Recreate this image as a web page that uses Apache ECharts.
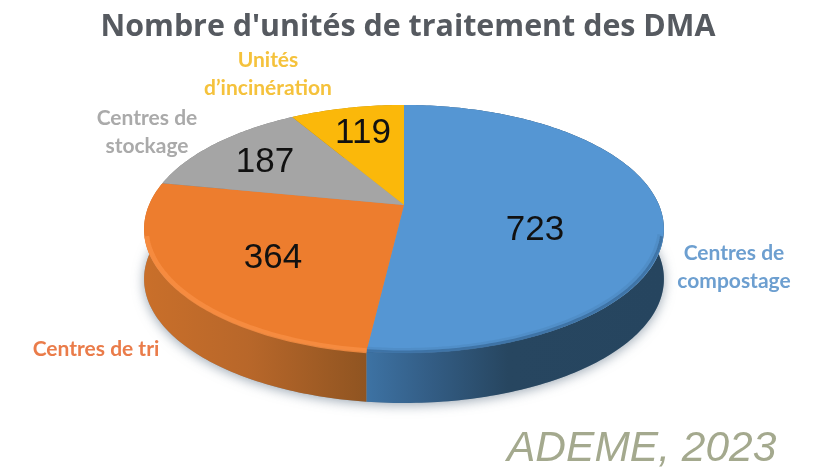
<!DOCTYPE html>
<html><head><meta charset="utf-8">
<style>html,body{margin:0;padding:0;background:#fff}#c{width:818px;height:468px;filter:blur(0.55px)}</style>
<script src="https://cdn.jsdelivr.net/npm/echarts@6/dist/echarts.min.js"></script>
</head><body><div id="c"></div>
<script>
const categories = ['Centres de\ncompostage', 'Centres de tri', 'Centres de\nstockage', 'Unités\nd’incinération'];
const values = [723, 364, 187, 119];
const titleText = "Nombre d'unités de traitement des DMA";
const creditText = 'ADEME, 2023';

const topColors = ['#5596d3', '#ed7d2e', '#a5a5a5', '#fbb80a'];
const nameColors = ['#6d9fd0', '#ea7c4a', '#aaaaaa', '#f5c23c'];
const namePos = [[734, 267], [96, 349], [147, 132], [268, 74]];
const valuePos = [[535, 230], [273, 258], [265, 162], [363, 133]];

const CX = 404, APEX = 205, BACK = 105, FRONT = 353, RX = 255, DEPTH = 50;
const C2 = (2 * APEX - FRONT - BACK) / (FRONT - BACK);
const A = FRONT * (1 + C2) - APEX;
function project(deg) {
  const t = deg * Math.PI / 180, x = Math.sin(t), y = -Math.cos(t), w = 1 + C2 * y;
  return [CX + RX * x / w, (A * y + APEX) / w];
}
const total = values.reduce((a, b) => a + b, 0);
const starts = [];
values.reduce((acc, v, i) => { starts[i] = acc; return acc + v; }, 0);
function arc(i) {
  const a0 = starts[i] / total * 360, a1 = (starts[i] + values[i]) / total * 360, pts = [];
  const n = Math.max(2, Math.ceil(a1 - a0));
  for (let k = 0; k <= n; k++) pts.push(project(a0 + (a1 - a0) * k / n));
  return pts;
}
function down(pts) { return pts.map(p => [p[0], p[1] + DEPTH]).reverse(); }
function inset(pts, f, dy) { return pts.map(p => [CX + (p[0] - CX) * f, p[1] + dy]); }
function grad(stops) {
  return { type: 'linear', global: true, x: 144, y: 0, x2: 664, y2: 0,
    colorStops: stops.map(s => ({ offset: s[0], color: s[1] })) };
}
const sideFills = [
  grad([[0.43, '#3d72a3'], [0.55, '#335d85'], [0.70, '#274660'], [1, '#26455f']]),
  grad([[0, '#c96f2a'], [0.2, '#b8672a'], [0.43, '#8f5421']]),
  '#7a7a7a', '#b08000'
];

function renderItem(params, api) {
  const i = params.dataIndex, pts = arc(i), children = [];
  const front = pts.filter(p => p[1] > 236);
  if (i === 0) {
    const rim = [];
    for (let d = 0; d <= 360; d += 2) rim.push(project(d));
    children.push({ type: 'polygon', z2: 0, shape: { points: rim.map(p => [p[0], p[1] + DEPTH]) },
      style: { fill: '#8a9aa8', shadowBlur: 12, shadowColor: 'rgba(90,110,130,0.6)', shadowOffsetY: 2 } });
  }
  children.push({ type: 'polygon', z2: 1, shape: { points: pts.concat(down(pts)) }, style: { fill: sideFills[i] } });
  children.push({ type: 'polygon', z2: 3, shape: { points: [[CX, APEX]].concat(pts) }, style: { fill: topColors[i] } });
  if (front.length > 1 && i === 1) {
    children.push({ type: 'polyline', z2: 4, shape: { points: inset(front, 0.992, -1) },
      style: { fill: null, stroke: '#f78d42', lineWidth: 5, opacity: 0.85 } });
  } else if (front.length > 1 && i === 0) {
    children.push({ type: 'polyline', z2: 4, shape: { points: inset(front, 0.985, -3) },
      style: { fill: null, stroke: '#4c88c0', lineWidth: 4, opacity: 0.55 } });
    children.push({ type: 'polyline', z2: 4, shape: { points: inset(front, 0.993, -1) },
      style: { fill: null, stroke: '#386a9a', lineWidth: 3, opacity: 0.75 } });
  }
  children.push({ type: 'text', z2: 6, x: valuePos[i][0], y: valuePos[i][1],
    style: { text: String(api.value(0)), fill: '#111', font: '35px "Liberation Sans"', align: 'center', verticalAlign: 'middle' } });
  children.push({ type: 'text', z2: 6, x: namePos[i][0], y: namePos[i][1],
    style: { text: categories[i], fill: nameColors[i], font: 'bold 21px Lato', lineHeight: 28, align: 'center', verticalAlign: 'middle' } });
  return { type: 'group', children };
}

const chart = echarts.init(document.getElementById('c'), null, { renderer: 'canvas' });
chart.setOption({
  animation: false,
  backgroundColor: '#ffffff',
  title: [
    { text: titleText, left: 403, top: 7, textAlign: 'center',
      textStyle: { fontFamily: 'Open Sans', fontWeight: 'bold', fontSize: 30.4, color: '#565a60' } },
    { text: creditText, left: 502, top: 423,
      textStyle: { fontFamily: 'Liberation Sans', fontStyle: 'italic', fontWeight: 'normal', fontSize: 42.5, color: '#a4a98e' } }
  ],
  series: [{
    type: 'custom', coordinateSystem: 'none', renderItem, silent: true,
    data: values.map((v, i) => ({ name: categories[i], value: [v] }))
  }]
});
</script></body></html>
